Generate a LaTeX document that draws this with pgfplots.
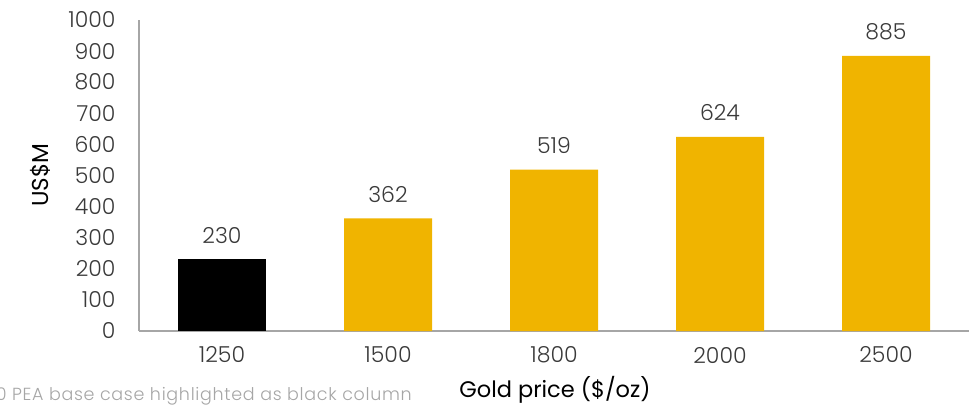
\documentclass[border=0pt]{standalone}
\usepackage{pgfplots}
\pgfplotsset{compat=1.18}
\usepackage{fontspec}
\setmainfont{Poppins Light}
\newfontfamily\medfont{Poppins}
\newfontfamily\notefont[LetterSpace=4]{Poppins Light}
\definecolor{gold}{HTML}{F0B400}
\definecolor{axgray}{HTML}{A6A6A6}
\definecolor{txt}{HTML}{3A3A3A}
\definecolor{note}{HTML}{A6A6A6}
\begin{document}
\begin{tikzpicture}[x=1pt,y=1pt]
\path[use as bounding box] (0,0) rectangle (974,405);
\begin{axis}[
  at={(139pt,74pt)}, anchor=south west,
  scale only axis, width=830pt, height=311pt,
  xmin=-0.5, xmax=4.5, ymin=0, ymax=1000,
  axis x line=bottom, axis y line=left,
  axis line style={-, draw=axgray, line width=1.3pt},
  major tick length=0pt,
  ytick={0,100,...,1000},
  xtick={0,1,2,3,4},
  xticklabels={1250,1500,1800,2000,2500},
  /pgf/number format/assume math mode=true,
  /pgf/number format/1000 sep={},
  tick label style={font=\fontsize{22}{23}\selectfont, text=txt},
  yticklabel style={anchor=east, xshift=-20pt},
  xticklabel style={anchor=center, yshift=-24pt},
  ybar, bar width=88pt, bar shift=0pt,
  nodes near coords,
  every node near coord/.append style={font=\fontsize{22}{23}\selectfont, text=txt, anchor=center, yshift=24pt},
  clip=false,
]
\addplot[fill=black, draw=none] coordinates {(0,230)};
\addplot[fill=gold, draw=none] coordinates {(1,362) (2,519) (3,624) (4,885)};
\end{axis}
\node[font=\medfont\fontsize{23}{25}\selectfont, rotate=90] at (40,230) {US\$M};
\node[font=\medfont\fontsize{22.5}{25}\selectfont, anchor=base] at (555,8) {Gold price (\$/oz)};
\node[font=\notefont\fontsize{17.5}{19}\selectfont, text=note, anchor=base east, inner sep=0pt] at (412,5) {2020 PEA base case highlighted as black column};
\end{tikzpicture}
\end{document}
